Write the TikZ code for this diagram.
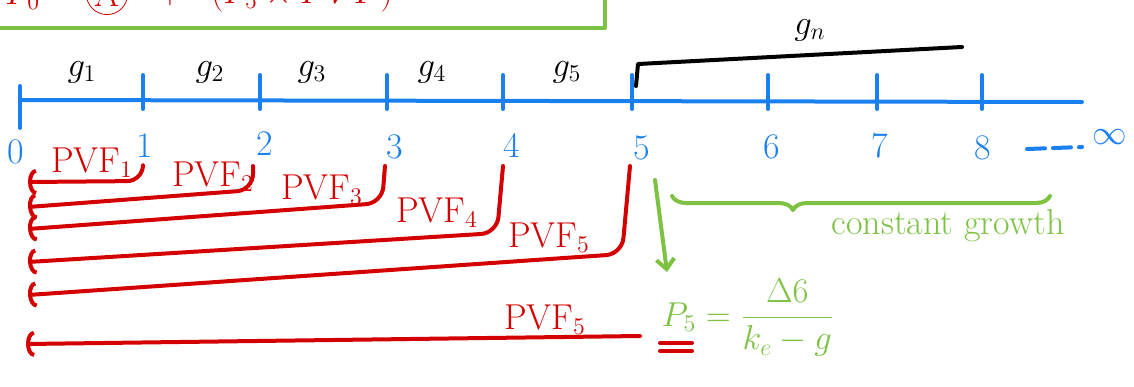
\documentclass[tikz,border=0pt]{standalone}
\usepackage{amsmath}
\usepackage{fontspec}
\usetikzlibrary{positioning,arrows.meta,decorations.pathreplacing}
\definecolor{penred}{RGB}{212,0,0}
\definecolor{penblue}{RGB}{26,128,240}
\definecolor{pengreen}{RGB}{125,194,66}
\tikzset{
  pen/.style={line width=2pt, line cap=round, line join=round},
  big/.style={font=\fontsize{18}{20}\selectfont},
  pvline/.style={pen, penred, rounded corners=8pt, -{Arc Barb[length=4pt,width=13pt]}},
  pvlabel/.style={big, penred, inner sep=1pt},
  growth/.style={big, black, inner sep=1pt},
  ticklabel/.style={big, penblue, inner sep=1pt},
}
\begin{document}
\begin{tikzpicture}[x=0.5pt, y=-0.5pt]
    \useasboundingbox (0,0) rectangle (1134,386);
    \clip (0,0) rectangle (1134,386);

    % Formula box (cut at the top)
    \draw[pen, pengreen] (0,28) -- (605,28) -- (605,-10);
    \node[big, penred] (pzero) at (40,-5) {$P_0 =$};
    \node[big, penred, draw, circle, inner sep=1pt] (aterm) at (107,-6) {A};
    \node[big, penred] (plus) at (170,-5) {$+$};
    \node[big, penred] (pterm) at (302,-5) {$(P_5 \times PVF)$};

    % Timeline
    \coordinate (axisL) at (20,100);
    \coordinate (axisR) at (1082,102);
    \draw[pen, penblue] (axisL) -- (axisR);
    \draw[pen, penblue] (20,86) -- (20,128);
    \foreach \i/\x in {1/143, 2/260, 3/387, 4/503, 5/632, 6/768, 7/877, 8/982} {
        \coordinate (t\i) at (\x,101);
        \draw[pen, penblue] ([yshift=-4]t\i) -- ([yshift=13]t\i);
    }
    \foreach \i/\x/\y in {0/16/152, 1/145/146, 2/265/144, 3/395/147, 4/512/145, 5/642/148, 6/772/147, 7/880/146, 8/983/148} {
        \node[ticklabel] (n\i) at (\x,\y) {\i};
    }
    \coordinate (dashL) at (1027,149);
    \coordinate (dashR) at (1082,147);
    \draw[pen, penblue, dash pattern=on 9pt off 4pt] (dashL) -- (dashR);
    \node[ticklabel, right=4pt of dashR, yshift=5pt] (inf) {$\infty$};

    % Growth rates
    \foreach \i/\x in {1/82, 2/210, 3/312, 4/432, 5/567} {
        \node[growth] (g\i) at (\x,72) {$g_\i$};
    }
    \node[growth] (gn) at (810,30) {$g_n$};
    \coordinate (brkB) at (636,86);
    \coordinate (brkT) at (638,64);
    \coordinate (brkR) at (962,47);
    \draw[pen, black] (brkB) -- (brkT) -- (brkR);

    % Present value factors
    \foreach \i/\tx/\cx/\cy/\ey/\lx/\ly in {1/143/143/181/182/92/163, 2/253/253/190/207/213/177,
        3/385/382/203/229/322/190, 4/503/497/233/262/437/213, 5/630/622/254/295/549/238} {
        \coordinate (top\i) at (\tx,166);
        \coordinate (bend\i) at (\cx,\cy);
        \coordinate (end\i) at (28,\ey);
        \draw[pvline] (top\i) -- (bend\i) -- (end\i);
        \node[pvlabel] (pvf\i) at (\lx,\ly) {PVF$_\i$};
    }
    \coordinate (startT) at (640,336);
    \coordinate (endT) at (26,344);
    \draw[pvline] (startT) -- (endT);
    \node[pvlabel] (pvfT) at (545,320) {PVF$_5$};

    % Constant growth
    \coordinate (downA) at (655,180);
    \coordinate (downB) at (667,272);
    \draw[pen, pengreen, -{Straight Barb[length=5pt,width=9pt]}] (downA) -- (downB);
    \coordinate (brcL) at (672,196);
    \coordinate (brcR) at (1050,196);
    \draw[pen, pengreen, decorate, decoration={brace, mirror, amplitude=7pt, aspect=0.32}] (brcL) -- (brcR);
    \node[big, pengreen] (cg) at (948,226) {constant growth};
    \node[big, pengreen] (terminal) at (748,318) {$P_5 = \dfrac{\Delta 6}{k_e - g}$};
    \coordinate (ulL) at (660,343);
    \coordinate (ulR) at (692,343);
    \draw[pen, penred] (ulL) -- (ulR);
    \draw[pen, penred] ([yshift=-4pt]ulL) -- ([yshift=-4pt]ulR);
\end{tikzpicture}
\end{document}
